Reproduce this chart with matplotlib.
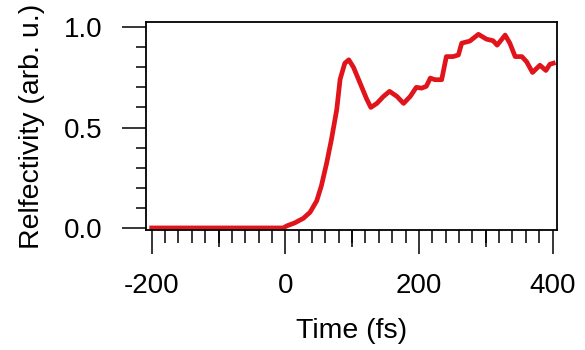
import numpy as np
import matplotlib
matplotlib.use('Agg')
import matplotlib.pyplot as plt

plt.rcParams['font.family'] = ['Liberation Sans', 'DejaVu Sans']

# 数据
time_fs = [-200, -150, -100, -50, -3, 2, 14, 27, 37, 47, 54, 62, 69, 77, 82, 89, 95,
           102, 112, 122, 128, 137, 147, 156, 167, 177, 187, 196, 204, 211, 217,
           224, 234, 241, 251, 259, 264, 276, 289, 301, 311, 317, 329, 336, 344,
           354, 361, 370, 381, 390, 396, 401]
reflectivity = [0.0, 0.0, 0.0, 0.0, 0.0, 0.01, 0.025, 0.048, 0.078, 0.135, 0.21, 0.325,
                0.44, 0.59, 0.74, 0.82, 0.837, 0.80, 0.72, 0.64, 0.60, 0.62, 0.655,
                0.68, 0.655, 0.62, 0.655, 0.70, 0.696, 0.705, 0.746, 0.738, 0.738,
                0.853, 0.853, 0.861, 0.92, 0.93, 0.964, 0.94, 0.932, 0.91, 0.96, 0.92,
                0.853, 0.853, 0.828, 0.774, 0.81, 0.784, 0.815, 0.82]
x_ticks = [-200, 0, 200, 400]
y_ticks = [0.0, 0.5, 1.0]

fig = plt.figure(figsize=(5.85, 3.5), dpi=100)
ax = fig.add_axes([0.2496, 0.343, 0.7024, 0.594])

ax.plot(time_fs, reflectivity, color='#e0141a', lw=3.4, solid_joinstyle='round')

ax.set_xlim(-208.5, 406.5)
ax.set_ylim(-0.01, 1.025)

ax.set_xticks(x_ticks)
ax.set_xticklabels(['-200', '0', '200', '400'])
ax.set_xticks(np.arange(-200, 401, 20), minor=True)
ax.set_yticks(y_ticks)
ax.set_yticklabels(['0.0', '0.5', '1.0'])
ax.set_yticks(np.arange(0, 1.01, 0.1), minor=True)

for s in ax.spines.values():
    s.set_linewidth(1.3)

ax.tick_params(axis='x', which='major', direction='out', length=17, width=1.1,
               labelsize=20, pad=14, colors='black')
ax.tick_params(axis='x', which='minor', direction='out', length=9.5, width=1.1)
ax.tick_params(axis='y', which='major', direction='out', length=17, width=1.1,
               labelsize=20, pad=14)
ax.tick_params(axis='y', which='minor', direction='out', length=7, width=1.1)

# 中等长度刻度 (每100)
sec = ax.secondary_xaxis('bottom')
sec.set_xticks([-100, 100, 300])
sec.tick_params(direction='out', length=12.5, width=1.1, labelbottom=False)
sec.spines['bottom'].set_visible(False)

ax.set_xlabel('Time (fs)', fontsize=20.5, labelpad=14)
ax.set_ylabel('Relfectivity (arb. u.)', fontsize=20.5, labelpad=14)

fig.savefig('out.png', dpi=100)
